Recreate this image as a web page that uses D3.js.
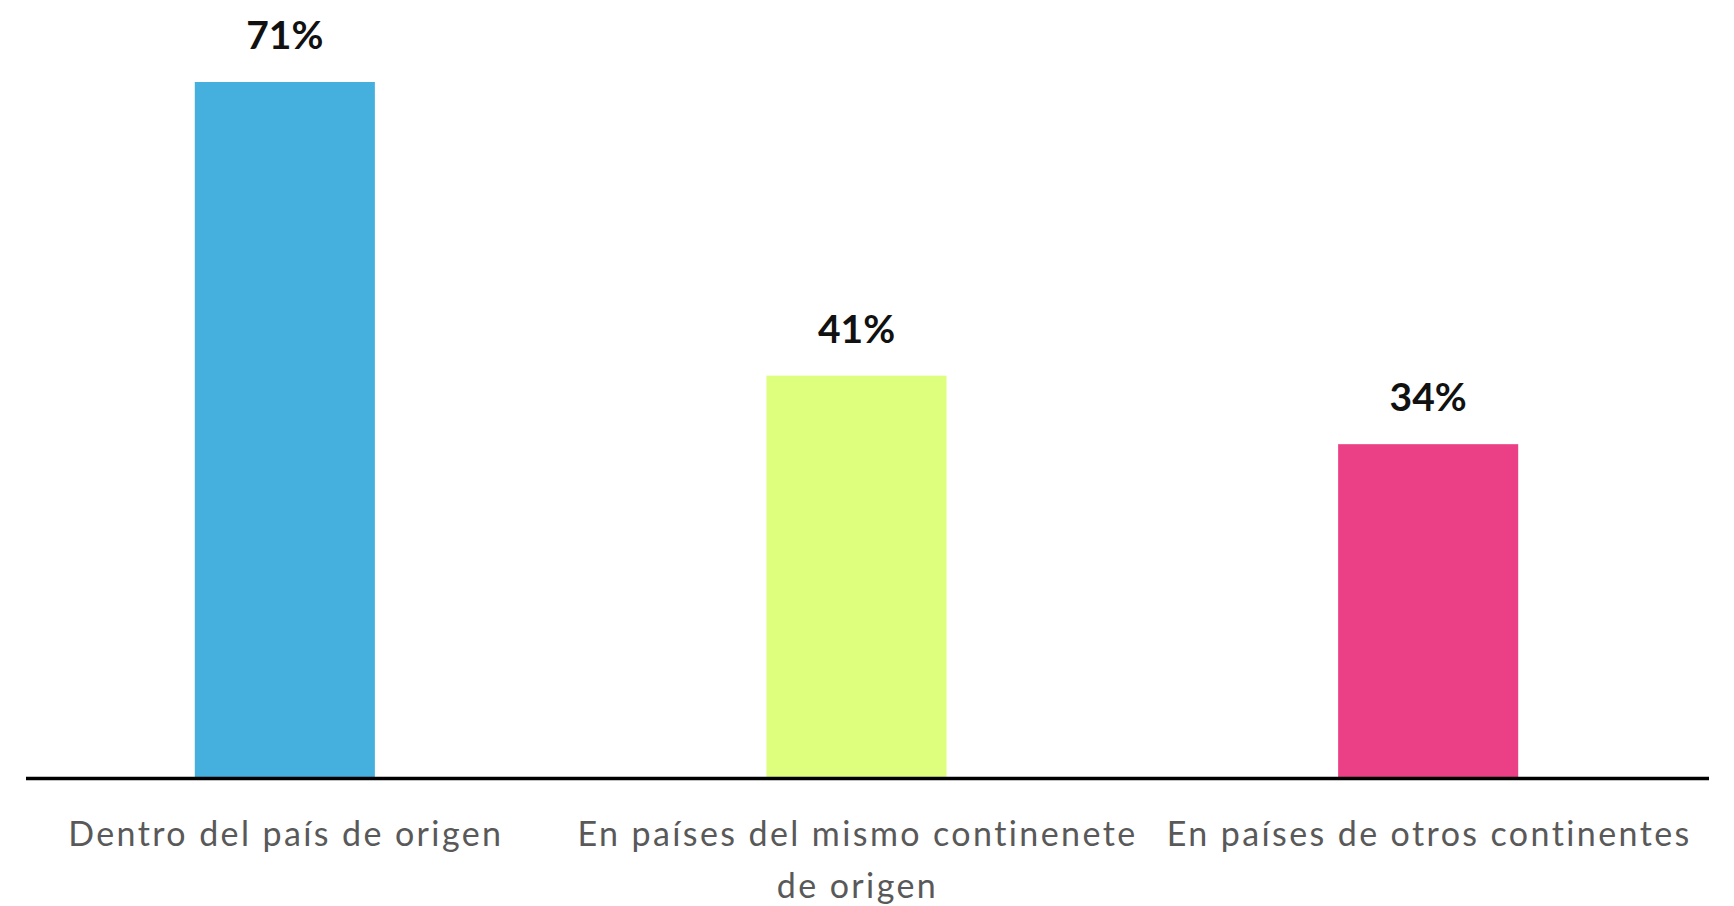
<!DOCTYPE html>
<html>
<head>
<meta charset="utf-8">
<script src="https://cdn.jsdelivr.net/npm/d3@7"></script>
<style>
  html, body { margin: 0; padding: 0; background: #fff; }
  .label { font-family: Lato, "Open Sans", sans-serif; }
</style>
</head>
<body>
<svg class="plot"></svg>
<script>
const dimen = { width: 1734, height: 906 }

// data
const categories = [
  ['Dentro del país de origen'],
  ['En países del mismo continenete', 'de origen'],
  ['En países de otros continentes'],
]
const values = [71, 41, 34]
const colors = ['#45afde', '#deff7e', '#eb4086']

const xScale = d3.scaleBand()
  .domain(d3.range(values.length))
  .range([-1, 1714])
  .paddingInner(0.685)
  .paddingOuter(0.3425)
const yScale = d3.scaleLinear()
  .domain([0, 71])
  .range([777, 82])

const svg = d3.select('.plot')
    .attr('width', dimen.width)
    .attr('height', dimen.height)

// Bars
svg.append('g')
  .selectAll('rect')
    .data(values)
  .enter().append('rect')
    .attr('x', (d, i) => xScale(i))
    .attr('y', d => yScale(d))
    .attr('width', xScale.bandwidth())
    .attr('height', d => yScale(0) - yScale(d))
    .attr('fill', (d, i) => colors[i])

// value labels
svg.append('g')
  .selectAll('text')
    .data(values)
  .enter().append('text')
    .attr('class', 'label')
    .attr('x', (d, i) => xScale(i) + xScale.bandwidth() / 2)
    .attr('y', d => yScale(d) - 33)
    .attr('text-anchor', 'middle')
    .attr('font-size', 39)
    .attr('font-weight', 'bold')
    .attr('fill', '#111')
    .text(d => d + '%')

// baseline axis
svg.append('line')
    .attr('x1', 26).attr('x2', 1709)
    .attr('y1', yScale(0) + 1.5).attr('y2', yScale(0) + 1.5)
    .attr('stroke', '#000')
    .attr('stroke-width', 3.5)

// category labels
const cat = svg.append('g')
  .selectAll('text')
    .data(categories)
  .enter().append('text')
    .attr('class', 'label')
    .attr('x', (d, i) => xScale(i) + xScale.bandwidth() / 2 + 1)
    .attr('y', 846)
    .attr('text-anchor', 'middle')
    .attr('font-size', 34)
    .attr('letter-spacing', 2.4)
    .attr('fill', '#595959')
cat.selectAll('tspan')
    .data(d => d)
  .enter().append('tspan')
    .attr('x', function() { return this.parentNode.getAttribute('x') })
    .attr('dy', (d, j) => j ? 52 : 0)
    .text(d => d)
</script>
</body>
</html>
